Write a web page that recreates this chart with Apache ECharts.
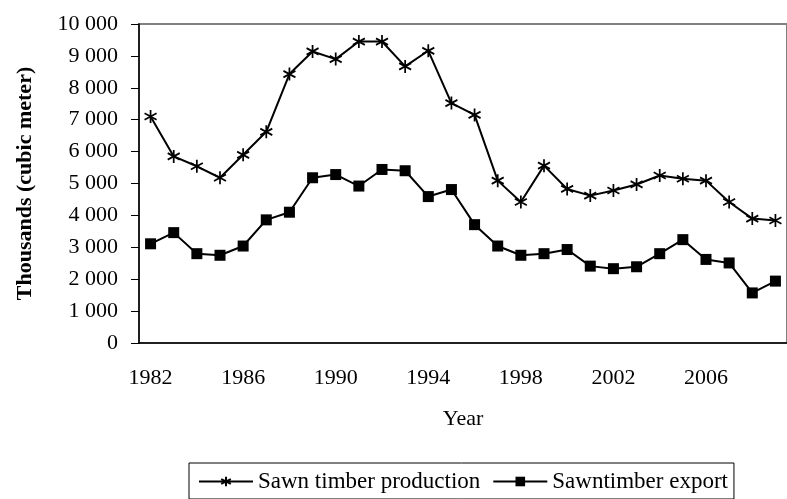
<!DOCTYPE html>
<html>
<head>
<meta charset="utf-8">
<script src="https://cdn.jsdelivr.net/npm/echarts@6/dist/echarts.min.js"></script>
<style>
  html, body { margin: 0; padding: 0; background: #fff; }
  #chart { width: 787px; height: 499px; }
</style>
</head>
<body>
<div id="chart"></div>
<script>
// data
var years = ['1982', '1983', '1984', '1985', '1986', '1987', '1988', '1989', '1990', '1991',
  '1992', '1993', '1994', '1995', '1996', '1997', '1998', '1999', '2000', '2001',
  '2002', '2003', '2004', '2005', '2006', '2007', '2008', '2009'];
var production = [7100, 5850, 5540, 5180, 5900, 6620, 8430, 9140, 8900, 9450,
  9450, 8670, 9160, 7520, 7150, 5090, 4420, 5560, 4830, 4620,
  4780, 4970, 5250, 5150, 5090, 4420, 3900, 3840];
var exportVals = [3110, 3460, 2800, 2750, 3040, 3860, 4100, 5180, 5280, 4920,
  5440, 5400, 4590, 4810, 3710, 3040, 2750, 2800, 2930, 2410,
  2330, 2390, 2800, 3240, 2620, 2510, 1570, 1940];
var seriesNames = ['Sawn timber production', 'Sawntimber export'];

var font = 'Liberation Serif';
var chart = echarts.init(document.getElementById('chart'));

chart.setOption({
    animation: false,
    backgroundColor: '#fff',
    textStyle: { fontFamily: font, color: '#000' },
    grid: {
        left: 139, top: 24, width: 653, bottom: 156,
        show: true, borderColor: '#808080', borderWidth: 2
    },
    legend: {
        data: seriesNames,
        left: 189, top: 463,
        padding: [7, 6, 6, 9],
        itemGap: 12,
        itemWidth: 54,
        itemHeight: 12,
        borderColor: '#000',
        borderWidth: 1,
        textStyle: { fontFamily: font, fontSize: 23, color: '#000' }
    },
    xAxis: {
        type: 'category',
        data: years,
        boundaryGap: true,
        name: 'Year',
        nameLocation: 'middle',
        nameGap: 65,
        nameTextStyle: { fontFamily: font, fontSize: 22, color: '#000' },
        axisLine: { lineStyle: { color: '#000', width: 1.5 } },
        axisTick: { interval: 0, length: 7, lineStyle: { color: '#000' } },
        axisLabel: { interval: 3, margin: 24, fontFamily: font, fontSize: 22, color: '#000' },
        splitLine: { show: false }
    },
    yAxis: {
        type: 'value',
        min: 0, max: 10000, interval: 1000,
        name: 'Thousands (cubic meter)',
        nameLocation: 'middle',
        nameGap: 103,
        nameTextStyle: { fontFamily: font, fontSize: 22, fontWeight: 'bold', color: '#000' },
        axisLine: { show: true, lineStyle: { color: '#000', width: 1.5 } },
        axisTick: { show: true, length: 8, lineStyle: { color: '#000' } },
        axisLabel: {
            margin: 21, fontFamily: font, fontSize: 22, color: '#000',
            formatter: function (v) {
                return String(v).replace(/\B(?=(\d{3})+(?!\d))/g, ' ');
            }
        },
        splitLine: { show: false }
    },
    series: [{
        name: seriesNames[0],
        type: 'line',
        data: production,
        symbol: 'path://M0,-6L0,6M-5.2,-3L5.2,3M-5.2,3L5.2,-3',
        symbolSize: [12, 13],
        lineStyle: { color: '#000', width: 2 },
        itemStyle: { color: '#000', borderColor: '#000', borderWidth: 1.8 }
    }, {
        name: seriesNames[1],
        type: 'line',
        data: exportVals,
        symbol: 'rect',
        symbolSize: 11,
        lineStyle: { color: '#000', width: 2 },
        itemStyle: { color: '#000', borderColor: '#000', borderWidth: 0 }
    }]
});
</script>
</body>
</html>
